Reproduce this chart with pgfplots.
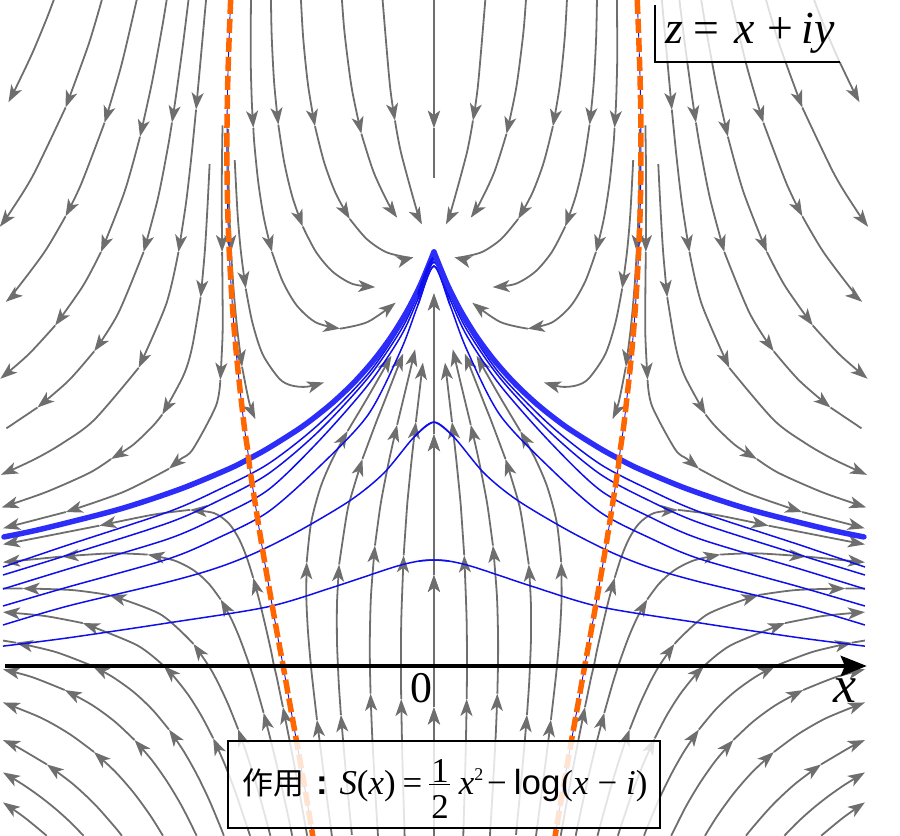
\documentclass[border=0pt]{standalone}
\usepackage{fontspec}
\setmainfont{Liberation Serif}
\newfontfamily\serifx{Liberation Serif}
\newfontfamily\cjk{Noto Sans CJK SC}
\newfontfamily\sansf{Liberation Sans}
\usepackage{pgfplots}
\pgfplotsset{compat=1.18}
\usetikzlibrary{arrows.meta}
\definecolor{sg}{RGB}{110,110,110}
\definecolor{bthin}{RGB}{15,15,235}
\definecolor{bthick}{RGB}{45,45,250}
\definecolor{org}{RGB}{255,102,0}
\tikzset{
  sa/.style={draw=sg, line width=1.8bp, smooth, -{Stealth[length=17bp,width=12bp,inset=4.5bp]}},
  sl/.style={draw=sg, line width=1.8bp, smooth},
}
\pgfplotsset{
  base/.style={width=900bp,height=836bp,scale only axis,hide axis,ymin=-0.4106,ymax=1.6087,clip=true},
  rax/.style={base,xmin=-2.028,xmax=2.178},
  lax/.style={base,x dir=reverse,xmin=-2.178,xmax=2.028},
}
\newcommand{\graystreams}{%
\addplot[sa] coordinates {(0,1.609) (0,1.30)};
\addplot[sl] coordinates {(0,1.30) (0,1.18)};
\addplot[sa] coordinates {(0,-0.41) (0,-0.10)};
\addplot[sa] coordinates {(0,-0.10) (0,0.22)};
\addplot[sa] coordinates {(0,0.22) (0,0.56)};
\addplot[sa] coordinates {(0,0.56) (0,0.90)};
%T1
\addplot[sa] coordinates {(0.24,1.609) (0.2063,1.4054) (0.1822,1.3176)};
\addplot[sa] coordinates {(0.1822,1.3176) (0.1534,1.2389) (0.0816,1.1028) (0.0562,1.0667)};
%T2
\addplot[sa] coordinates {(0.4299,1.609) (0.4169,1.5254) (0.3841,1.3955) (0.3391,1.2856)};
\addplot[sa] coordinates {(0.3391,1.2856) (0.2817,1.1927) (0.2116,1.1156) (0.1718,1.083)};
%T3
\addplot[sa] coordinates {(0.6215,1.609) (0.6106,1.5143) (0.5881,1.4023) (0.5559,1.3037)};
\addplot[sa] coordinates {(0.5559,1.3037) (0.5133,1.217) (0.4594,1.1421) (0.3933,1.0797)};
\addplot[sa] coordinates {(0.3933,1.0797) (0.3147,1.0316) (0.2247,1.0) (0.1263,0.9873) (0.0959,0.9875)};
%T4
\addplot[sa] coordinates {(0.7617,1.609) (0.758,1.5185) (0.7466,1.4078) (0.7273,1.3075)};
\addplot[sa] coordinates {(0.7273,1.3075) (0.6996,1.2164) (0.6622,1.1342) (0.6133,1.0615)};
\addplot[sa] coordinates {(0.6133,1.0615) (0.551,1.0) (0.4735,0.9525) (0.3804,0.9229) (0.2743,0.9152)};
%T5
\addplot[sa] coordinates {(0.8551,1.609) (0.8564,1.4678) (0.8509,1.3597) (0.844,1.30)};
\addplot[sa] coordinates {(0.844,1.30) (0.8391,1.2596) (0.8205,1.1664) (0.7938,1.0796) (0.757,1.0)};
\addplot[sa] coordinates {(0.757,1.0) (0.7071,0.9291) (0.6401,0.8702) (0.5508,0.8296) (0.4382,0.8148)};
\addplot[sa] coordinates {(0.4382,0.8148) (0.3093,0.8311) (0.1789,0.8776)};
%T6
\addplot[sa] coordinates {(0.931,1.222) (0.9176,1.092) (0.902,1.0) (0.8796,0.9118)};
\addplot[sa] coordinates {(0.8796,0.9118) (0.8477,0.8281) (0.80,0.7525) (0.7231,0.6943) (0.6668,0.6778) (0.5961,0.6744) (0.5139,0.6849)};
%T7
\addplot[sa] coordinates {(0.9619,1.2975) (0.9609,1.1948) (0.9563,1.0959) (0.948,1.0)};
\addplot[sa] coordinates {(0.948,1.0) (0.9359,0.9061) (0.9193,0.8136) (0.8967,0.7226)};
\addplot[sa] coordinates {(0.8967,0.7226) (0.8626,0.6353) (0.8344,0.5969)};
%TRa
\addplot[sa] coordinates {(0.988,1.3056) (0.991,1.2009) (0.9914,1.0994) (0.99,1.0)};
\addplot[sa] coordinates {(0.99,1.0) (0.9879,0.9009) (0.9878,0.7997) (0.9982,0.6912)};
\addplot[sa] coordinates {(0.9982,0.6912) (1.019,0.628) (1.1267,0.5237) (1.183,0.50) (1.2386,0.4764)};
\addplot[sa] coordinates {(1.2386,0.4764) (1.4513,0.4204) (1.7207,0.3719)};
\addplot[sa] coordinates {(1.7207,0.3719) (2.013,0.3327)};
%TRb
\addplot[sa] coordinates {(1.0483,1.2125) (1.0586,1.1062) (1.071,1.0) (1.0902,0.8907)};
\addplot[sa] coordinates {(1.0902,0.8907) (1.1297,0.771) (1.1713,0.7009) (1.2697,0.6073)};
\addplot[sa] coordinates {(1.2697,0.6073) (1.3157,0.5785) (1.4082,0.5333) (1.509,0.5)};
\addplot[sa] coordinates {(1.509,0.5) (1.6091,0.4667) (1.805,0.4217) (1.963,0.3928) (2.02,0.383)};
%TR1
\addplot[sa] coordinates {(1.065,1.609) (1.0909,1.4612) (1.1117,1.3439)};
\addplot[sa] coordinates {(1.1117,1.3439) (1.1336,1.2298) (1.1592,1.1163) (1.194,1.0)};
\addplot[sa] coordinates {(1.194,1.0) (1.251,0.8745) (1.3801,0.7202)};
\addplot[sa] coordinates {(1.3801,0.7202) (1.5872,0.5947) (1.7348,0.5385) (1.864,0.5) (2.0234,0.4617)};
%TR2
\addplot[sa] coordinates {(1.147,1.609) (1.1741,1.4964) (1.2066,1.3732) (1.2243,1.3126)};
\addplot[sa] coordinates {(1.2243,1.3126) (1.2436,1.2521) (1.2901,1.1294) (1.357,1.0)};
\addplot[sa] coordinates {(1.357,1.0) (1.4754,0.852) (1.5879,0.7601)};
\addplot[sa] coordinates {(1.5879,0.7601) (1.7074,0.6893) (1.8532,0.6243)};
\addplot[sl] coordinates {(1.8532,0.6243) (1.9978,0.5741)};
%TR3
\addplot[sa] coordinates {(1.249,1.609) (1.2719,1.5377) (1.3183,1.4078) (1.3736,1.2785)};
\addplot[sa] coordinates {(1.3736,1.2785) (1.4462,1.1451) (1.556,1.0)};
\addplot[sa] coordinates {(1.556,1.0) (1.6406,0.9179) (1.7704,0.8224)};
\addplot[sa] coordinates {(1.7704,0.8224) (1.8956,0.7522) (2.0263,0.6938)};
%TR4
\addplot[sa] coordinates {(1.389,1.609) (1.4604,1.4517) (1.5395,1.3121)};
\addplot[sa] coordinates {(1.5395,1.3121) (1.6477,1.1653) (1.7216,1.0862)};
\addplot[sa] coordinates {(1.7216,1.0862) (1.82,1.0) (1.9627,0.9018) (2.0006,0.8798)};
%TR5
\addplot[sa] coordinates {(1.552,1.609) (1.6151,1.4996) (1.7214,1.349)};
\addplot[sa] coordinates {(1.7214,1.349) (1.8709,1.1877) (1.9765,1.099) (2.0285,1.0609)};
%TR6
\addplot[sa] coordinates {(1.7765,1.609) (1.8122,1.5606) (1.8777,1.4795) (1.9541,1.3962) (1.9885,1.3618)};
%B1
\addplot[sa] coordinates {(0.1364,-0.4194) (0.1478,-0.2178) (0.153,-0.0797)};
\addplot[sa] coordinates {(0.153,-0.0797) (0.1543,0) (0.1524,0.1168) (0.1415,0.2671)};
\addplot[sa] coordinates {(0.1415,0.2671) (0.1268,0.3771) (0.1213,0.4105) (0.104,0.5) (0.0845,0.5895)};
\addplot[sa] coordinates {(0.0845,0.5895) (0.0767,0.6229) (0.0516,0.7328)};
%B2
\addplot[sa] coordinates {(0.26,-0.4223) (0.2709,-0.3314) (0.2881,-0.1729) (0.2962,-0.0669)};
\addplot[sa] coordinates {(0.2962,-0.0669) (0.2991,0) (0.2996,0.0674) (0.2941,0.1707) (0.2757,0.2909)};
\addplot[sa] coordinates {(0.2757,0.2909) (0.2536,0.3754) (0.24,0.4174) (0.2084,0.5) (0.172,0.5826)};
\addplot[sa] coordinates {(0.172,0.5826) (0.1524,0.6246) (0.1131,0.7091) (0.088,0.765)};
%B3
\addplot[sa] coordinates {(0.3834,-0.4077) (0.4136,-0.245) (0.4347,-0.118)};
\addplot[sa] coordinates {(0.4347,-0.118) (0.4441,-0.048) (0.4486,0) (0.4532,0.0633) (0.453,0.1516) (0.4431,0.2453)};
\addplot[sa] coordinates {(0.4431,0.2453) (0.4082,0.3642) (0.3875,0.4096) (0.3342,0.5)};
\addplot[sa] coordinates {(0.3342,0.5) (0.2688,0.5904) (0.2339,0.6358) (0.144,0.7547)};
%B4
\addplot[sa] coordinates {(0.4767,-0.4111) (0.4929,-0.347) (0.522,-0.2318) (0.5466,-0.1299)};
\addplot[sa] coordinates {(0.5466,-0.1299) (0.5634,-0.055) (0.5748,0) (0.5886,0.0833) (0.5964,0.166) (0.5947,0.2506)};
\addplot[sa] coordinates {(0.5947,0.2506) (0.5738,0.3468) (0.5297,0.4323) (0.474,0.5) (0.4034,0.5677)};
\addplot[sa] coordinates {(0.4034,0.5677) (0.3047,0.6532) (0.1989,0.7494)};
%BR 0.93
\addplot[sa] coordinates {(0.5924,-0.41) (0.6092,-0.3612) (0.6434,-0.2642) (0.6755,-0.1776) (0.7058,-0.0992)};
\addplot[sa] coordinates {(0.7058,-0.0992) (0.7346,-0.0272) (0.7472,0) (0.7623,0.0393) (0.7895,0.1013) (0.8166,0.1592) (0.8447,0.2131)};
\addplot[sa] coordinates {(0.8447,0.2131) (0.8752,0.2628) (0.9113,0.3072) (0.9585,0.3443) (1.0284,0.3695) (1.1402,0.3771)};
\addplot[sa] coordinates {(1.1402,0.3771) (1.3136,0.3654) (1.5634,0.339)};
\addplot[sa] coordinates {(1.5634,0.339) (1.906,0.3043) (2.014,0.2937)};
%BR 0.86
\addplot[sa] coordinates {(0.6623,-0.41) (0.6868,-0.3495) (0.7241,-0.2624) (0.7603,-0.1841) (0.796,-0.1131)};
\addplot[sa] coordinates {(0.796,-0.1131) (0.8317,-0.0481) (0.8609,0) (0.907,0.0661) (0.949,0.1159) (0.9966,0.1606)};
\addplot[sa] coordinates {(0.9966,0.1606) (1.0531,0.1994) (1.1235,0.2314) (1.215,0.2551) (1.3379,0.2691)};
\addplot[sa] coordinates {(1.3379,0.2691) (1.5067,0.2721) (1.7398,0.2644)};
\addplot[sa] coordinates {(1.7398,0.2644) (2.014,0.2505)};
%BR 0.76
\addplot[sa] coordinates {(0.7642,-0.41) (0.7854,-0.3692) (0.8282,-0.2898) (0.8711,-0.2181) (0.9149,-0.153)};
\addplot[sa] coordinates {(0.9149,-0.153) (0.9608,-0.0937) (1.0097,-0.0396) (1.0521,0) (1.1238,0.0534)};
\addplot[sa] coordinates {(1.1238,0.0534) (1.2789,0.1251) (1.5167,0.1714)};
\addplot[sa] coordinates {(1.5167,0.1714) (1.6903,0.1834) (1.9222,0.1873)};
\addplot[sl] coordinates {(1.9222,0.1873) (2.014,0.187)};
%BR 0.67
\addplot[sa] coordinates {(0.8592,-0.41) (0.8823,-0.374) (0.9303,-0.301) (0.9798,-0.2347) (1.0318,-0.1745)};
\addplot[sa] coordinates {(1.0318,-0.1745) (1.0874,-0.1196) (1.1482,-0.0697) (1.2165,-0.0247) (1.2621,0)};
\addplot[sa] coordinates {(1.2621,0) (1.3881,0.0504) (1.6409,0.1036)};
\addplot[sa] coordinates {(1.6409,0.1036) (1.8197,0.1209) (2.014,0.1302)};
%BR 0.56
\addplot[sa] coordinates {(0.9819,-0.41) (0.9953,-0.3918) (1.0504,-0.3237) (1.1084,-0.2617) (1.1704,-0.2051) (1.2382,-0.1535)};
\addplot[sa] coordinates {(1.2382,-0.1535) (1.3138,-0.1066) (1.40,-0.0643) (1.5008,-0.0267) (1.5952,0)};
\addplot[sa] coordinates {(1.5952,0) (1.7684,0.0339) (1.9534,0.0563)};
\addplot[sl] coordinates {(1.9534,0.0563) (2.014,0.0615)};
%BR 0.45
\addplot[sa] coordinates {(1.1088,-0.41) (1.177,-0.3398) (1.2445,-0.2813) (1.3178,-0.2276) (1.3993,-0.1787)};
\addplot[sa] coordinates {(1.3993,-0.1787) (1.4918,-0.1341) (1.5989,-0.0938) (1.7256,-0.058)};
\addplot[sa] coordinates {(1.7256,-0.058) (1.8792,-0.0266) (2.014,-0.008)};
%BR 0.32
\addplot[sa] coordinates {(1.2664,-0.41) (1.3235,-0.3627) (1.4025,-0.3066) (1.49,-0.255) (1.5887,-0.2077)};
\addplot[sa] coordinates {(1.5887,-0.2077) (1.7022,-0.1645) (1.8354,-0.1253) (2.014,-0.088)};
%BR 0.17
\addplot[sa] coordinates {(1.4584,-0.41) (1.491,-0.389) (1.5844,-0.3345) (1.6892,-0.2841) (1.8092,-0.2377)};
\addplot[sa] coordinates {(1.8092,-0.2377) (1.9491,-0.195) (2.014,-0.179)};
%BR 0.04, -0.08
\addplot[sa] coordinates {(1.6373,-0.41) (1.7016,-0.3761) (1.769,-0.3448) (1.8419,-0.3149) (1.921,-0.2863) (2.014,-0.257)};
\addplot[sa] coordinates {(1.8096,-0.41) (1.9133,-0.3659) (2.014,-0.3294)};
}
\newcommand{\bluecurves}{%
\addplot[bthin, line width=1.5bp, smooth] coordinates {(-0.07,0.2535) (0,0.256) (0.07,0.2535) (0.187,0.239) (0.467,0.191) (0.776,0.143) (1.243,0.104) (1.710,0.068) (2.014,0.048)};
\addplot[bthin, line width=1.5bp, smooth] coordinates {(-0.093,0.553) (0,0.589) (0.093,0.553) (0.234,0.466) (0.388,0.401) (0.621,0.329) (0.827,0.275) (1.014,0.237) (1.243,0.203) (1.710,0.145) (2.014,0.099)};
\addplot[bthin, line width=1.5bp, smooth] coordinates {(-0.0748,0.872) (0,0.9662) (0.0748,0.872) (0.1542,0.7633) (0.3084,0.6063) (0.5421,0.4783) (0.7757,0.372) (1.0093,0.3092) (1.243,0.2585) (1.7103,0.1908) (2.014,0.1449)};
\addplot[bthin, line width=1.5bp, smooth] coordinates {(-0.0748,0.8865) (0,0.9758) (0.0748,0.8865) (0.1542,0.7971) (0.3084,0.6787) (0.5421,0.5411) (0.7757,0.4251) (1.0093,0.3599) (1.243,0.3068) (1.7103,0.2343) (2.014,0.186)};
\addplot[bthin, line width=1.5bp, smooth] coordinates {(-0.0748,0.8961) (0,0.9831) (0.0748,0.8961) (0.1542,0.8116) (0.3084,0.6957) (0.5421,0.5652) (0.7757,0.4638) (1.0093,0.3986) (1.243,0.3454) (1.7103,0.2681) (2.014,0.2198)};
\addplot[bthin, line width=1.5bp, smooth] coordinates {(-0.0748,0.901) (0,0.9879) (0.0748,0.901) (0.1542,0.8213) (0.3084,0.7053) (0.5421,0.5821) (0.7757,0.4879) (1.0093,0.4251) (1.243,0.372) (1.7103,0.2923) (2.014,0.2391)};
\addplot[bthick, line width=5.5bp, line cap=round, smooth] coordinates {(0,1) (0.0614,0.9227) (0.1241,0.8587) (0.1963,0.7979) (0.2792,0.7399) (0.3751,0.684) (0.4866,0.6301) (0.6174,0.5776) (0.7718,0.5268) (0.866,0.5) (0.9596,0.4758) (1.1847,0.4276) (1.4692,0.3789) (1.8331,0.3309) (2.0093,0.3118)};
\addplot[bthin, line width=0.9bp, smooth] coordinates {(0.95,1.609) (0.9567,1.5226) (0.9638,1.4075) (0.9672,1.2992) (0.967,1.1961) (0.9635,1.0966) (0.9566,1.0) (0.9464,0.9051) (0.9331,0.8108) (0.9163,0.7166) (0.8961,0.6212) (0.885,0.5724) (0.8711,0.5241) (0.866,0.5) (0.8593,0.4731) (0.8443,0.4224) (0.812,0.316) (0.7749,0.2021) (0.7322,0.0773) (0.7046,0) (0.6829,-0.0637) (0.6257,-0.2293) (0.5934,-0.3259) (0.5583,-0.4358)};
\addplot[org, line width=5.5bp, smooth, dash pattern=on 14bp off 5bp] coordinates {(0.95,1.609) (0.9567,1.5226) (0.9638,1.4075) (0.9672,1.2992) (0.967,1.1961) (0.9635,1.0966) (0.9566,1.0) (0.9464,0.9051) (0.9331,0.8108) (0.9163,0.7166) (0.8961,0.6212) (0.885,0.5724) (0.8711,0.5241) (0.866,0.5) (0.8593,0.4731) (0.8443,0.4224) (0.812,0.316) (0.7749,0.2021) (0.7322,0.0773) (0.7046,0) (0.6829,-0.0637) (0.6257,-0.2293) (0.5934,-0.3259) (0.5583,-0.4358)};
}
\begin{document}
\begin{tikzpicture}
\begin{axis}[lax]
\graystreams
\end{axis}
\begin{axis}[rax]
\graystreams
\end{axis}
\begin{axis}[lax]
\bluecurves
\end{axis}
\begin{axis}[rax]
\bluecurves
\path (rel axis cs:0,0) rectangle (rel axis cs:1,1);
\draw[line width=4.8bp, -{Stealth[length=26bp,width=20bp,inset=4bp]}] (axis cs:-2.0047,0) -- (axis cs:2.0234,0);
\node[inner sep=0] at (axis cs:-0.0607,-0.0531) {\serifx\fontsize{44}{44}\selectfont 0};
\node[inner sep=0] at (axis cs:1.9206,-0.0604) {\serifx\fontsize{52}{52}\selectfont\itshape x};
\fill[white, opacity=0.78] (axis cs:1.0327,1.62) rectangle (axis cs:1.92,1.4589);
\draw[line width=1.5bp] (axis cs:1.0327,1.5966) -- (axis cs:1.0327,1.4589) -- (axis cs:1.897,1.4589);
\node[anchor=base west, inner sep=0] at (axis cs:1.0794,1.5048) {\serifx\fontsize{46}{46}\selectfont\textit{z}\hspace{11bp}=\hspace{15bp}\textit{x}\hspace{12bp}+\hspace{9bp}\textit{iy}};
\draw[line width=1.3bp, fill=white, fill opacity=0.82] (axis cs:-0.9626,-0.1812) rectangle (axis cs:1.056,-0.3913);
\node[anchor=base west, inner sep=0] at (axis cs:-0.8972,-0.3092) {\serifx\fontsize{35}{35}\selectfont {\cjk\fontsize{31}{31}\selectfont 作用}\hspace{13bp}{\sansf\bfseries :}\hspace{11bp}\textit{S}(\textit{x})\hspace{7bp}=\hspace{9bp}\makebox[0pt][l]{\hspace{-2bp}\rule[9bp]{21bp}{1.3bp}}\makebox[0pt][l]{\raisebox{12bp}{1}}\raisebox{-24bp}{2}\hspace{10bp}\textit{x}\raisebox{14bp}{\fontsize{18}{18}\selectfont 2}\hspace{4bp}−\hspace{7bp}{\sansf log}\hspace{1bp}(\textit{x}\hspace{9bp}−\hspace{9bp}\textit{i})};
\end{axis}
\end{tikzpicture}
\end{document}
